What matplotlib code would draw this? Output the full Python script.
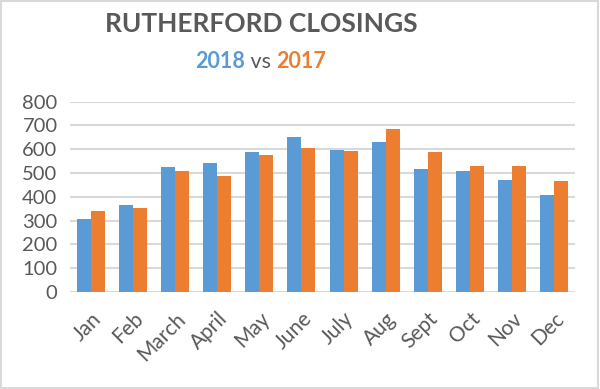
import numpy as np
import matplotlib.pyplot as plt
from matplotlib.patches import Rectangle

# monthly closings
months = ["Jan", "Feb", "March", "April", "May", "June",
          "July", "Aug", "Sept", "Oct", "Nov", "Dec"]
closings_2018 = [307, 366, 524, 542, 588, 653, 595, 632, 516, 510, 469, 409]
closings_2017 = [339, 352, 508, 487, 576, 605, 592, 684, 590, 531, 528, 465]
yticks = [0, 100, 200, 300, 400, 500, 600, 700, 800]

blue = "#5B9BD5"
orange = "#ED7D31"
gray = "#595959"

plt.rcParams['font.family'] = ['Lato', 'DejaVu Sans']

fig = plt.figure(figsize=(6, 3.89), dpi=100)
ax = fig.add_axes([70/600, 1 - 292/389, 505/600, (292 - 101.7)/389])

x = np.arange(len(months))
w = 1/3
ax.bar(x - w/2, closings_2018, w, color=blue, zorder=3)
ax.bar(x + w/2, closings_2017, w, color=orange, zorder=3)

ax.set_xlim(-0.5, len(months) - 0.5)
ax.set_ylim(0, 800)
ax.set_yticks(yticks)
ax.set_yticklabels([str(t) for t in yticks], fontsize=14.5, color=gray)
ax.set_xticks(x)
ax.set_xticklabels(months, rotation=45, ha='right', rotation_mode='anchor',
                   fontsize=15, color=gray)
ax.tick_params(length=0)
ax.tick_params(axis='y', pad=9)
ax.tick_params(axis='x', pad=12)
ax.grid(axis='y', color="#D9D9D9", linewidth=1.5, zorder=0)
for s in ax.spines.values():
    s.set_visible(False)

# titles
fig.text(261/600, 1 - 24/389, "RUTHERFORD CLOSINGS", ha='center', va='center',
         fontsize=19, fontweight='bold', color=gray)
t1 = fig.text(195/600, 1 - 62/389, "2018", ha='left', va='center',
              fontsize=15.5, fontweight='bold', color=blue)
a2 = plt.annotate(" vs ", xy=(1, 0), xycoords=t1, va='bottom', ha='left',
                  fontsize=15.5, color=gray, annotation_clip=False)
a3 = plt.annotate("2017", xy=(1, 0), xycoords=a2, va='bottom', ha='left',
                  fontsize=15.5, fontweight='bold', color=orange, annotation_clip=False)

# light frame around the whole chart
fig.patches.append(Rectangle((0.002, 0.003), 0.995, 0.994, transform=fig.transFigure,
                             fill=False, edgecolor="#D9D9D9", linewidth=1.5))

fig.savefig("out.png", dpi=100)
